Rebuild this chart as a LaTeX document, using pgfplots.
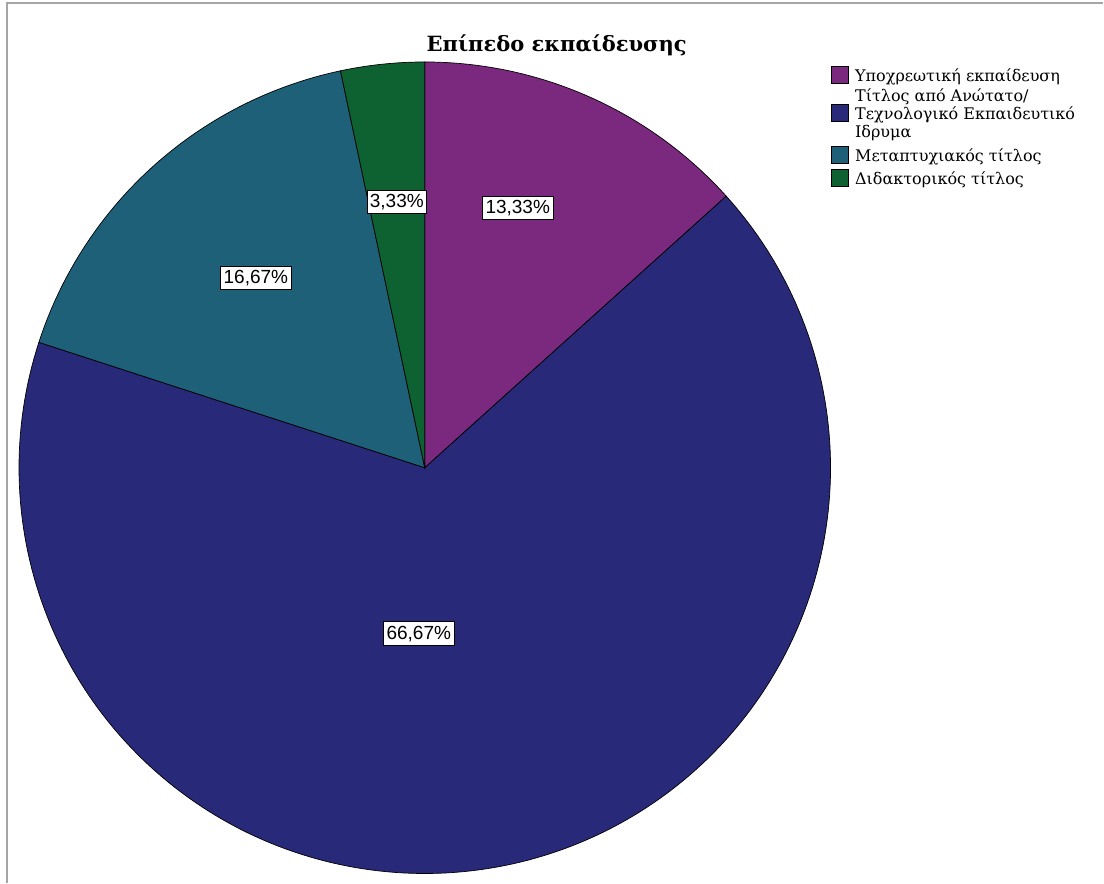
\documentclass[border=0pt]{standalone}
\usepackage{fontspec}
\setmainfont{DejaVu Serif}
\newfontfamily\lsans{Liberation Sans}
\usepackage{pgfplots}
\pgfplotsset{compat=1.18}
\definecolor{cPurple}{HTML}{7B297E}
\definecolor{cNavy}{HTML}{29297A}
\definecolor{cTeal}{HTML}{1F6079}
\definecolor{cGreen}{HTML}{0E6232}
\pgfplotsset{
  sqimg/.style={legend image code/.code={\draw[##1, line width=0.4pt] (0pt,-2pt) rectangle (17pt,15pt);}},
  sqimgdown/.style={legend image code/.code={\draw[##1, line width=0.4pt] (0pt,-19.5pt) rectangle (17pt,-2.5pt);}},
}
% shares (%)
\def\pA{13.33}\def\pB{66.67}\def\pC{16.67}\def\pD{3.33}
\pgfmathsetmacro\aZ{90}
\pgfmathsetmacro\aA{\aZ-3.6*\pA}
\pgfmathsetmacro\aB{\aA-3.6*\pB}
\pgfmathsetmacro\aC{\aB-3.6*\pC}
\pgfmathsetmacro\aD{\aC-3.6*\pD}
\def\cx{425}\def\cy{415}\def\rr{406}
\begin{document}
\begin{tikzpicture}
\begin{axis}[
  width=1104pt, height=883pt, scale only axis,
  xmin=0, xmax=1104, ymin=0, ymax=883,
  axis lines=none, clip=false,
  legend cell align=left,
  legend style={at={(axis cs:831,817)}, anchor=north west, draw=none, fill=none,
    inner sep=0pt, row sep=0pt, column sep=7pt,
    cells={anchor=base west},
    nodes={inner sep=0pt, text depth=, font=\fontsize{16}{17.5}\selectfont}},
]
\path (axis cs:0,0) rectangle (axis cs:1104,883);
\draw[gray!70, line width=1.2pt] (axis cs:7,0) -- (axis cs:7,880) -- (axis cs:1104,880);

\addplot[sqimg, fill=cPurple, draw=black, line width=0.7pt, domain=\aA:\aZ, samples=80, variable=\t]
  ({\cx+\rr*cos(\t)},{\cy+\rr*sin(\t)}) -- (axis cs:\cx,\cy) -- cycle;
\addlegendentry{\raisebox{0pt}[14pt][6pt]{Υποχρεωτική εκπαίδευση}}
\addplot[sqimgdown, fill=cNavy, draw=black, line width=0.7pt, domain=\aB:\aA, samples=200, variable=\t]
  ({\cx+\rr*cos(\t)},{\cy+\rr*sin(\t)}) -- (axis cs:\cx,\cy) -- cycle;
\addlegendentry{\raisebox{0pt}[14pt][45pt]{\parbox[t]{240pt}{\baselineskip=18pt Τίτλος από Ανώτατο/\\Τεχνολογικό Εκπαιδευτικό\\Ιδρυμα}}}
\addplot[sqimg, fill=cTeal, draw=black, line width=0.7pt, domain=\aC:\aB, samples=80, variable=\t]
  ({\cx+\rr*cos(\t)},{\cy+\rr*sin(\t)}) -- (axis cs:\cx,\cy) -- cycle;
\addlegendentry{\raisebox{0pt}[14pt][8pt]{Μεταπτυχιακός τίτλος}}
\addplot[sqimg, fill=cGreen, draw=black, line width=0.7pt, domain=\aD:\aC, samples=30, variable=\t]
  ({\cx+\rr*cos(\t)},{\cy+\rr*sin(\t)}) -- (axis cs:\cx,\cy) -- cycle;
\addlegendentry{\raisebox{0pt}[14pt][6pt]{Διδακτορικός τίτλος}}

\node[font=\bfseries\fontsize{21}{24}\selectfont, anchor=base] at (axis cs:557,831) {Επίπεδο εκπαίδευσης};

\tikzset{lbl/.style={fill=white, draw=black, line width=0.7pt, inner xsep=3pt, inner ysep=4pt,
  font=\lsans\fontsize{19}{21}\selectfont}}
\node[lbl] at (axis cs:518,675) {13,33\%};
\node[lbl] at (axis cs:397,681) {3,33\%};
\node[lbl] at (axis cs:256,605) {16,67\%};
\node[lbl] at (axis cs:419,249) {66,67\%};
\end{axis}
\end{tikzpicture}
\end{document}
